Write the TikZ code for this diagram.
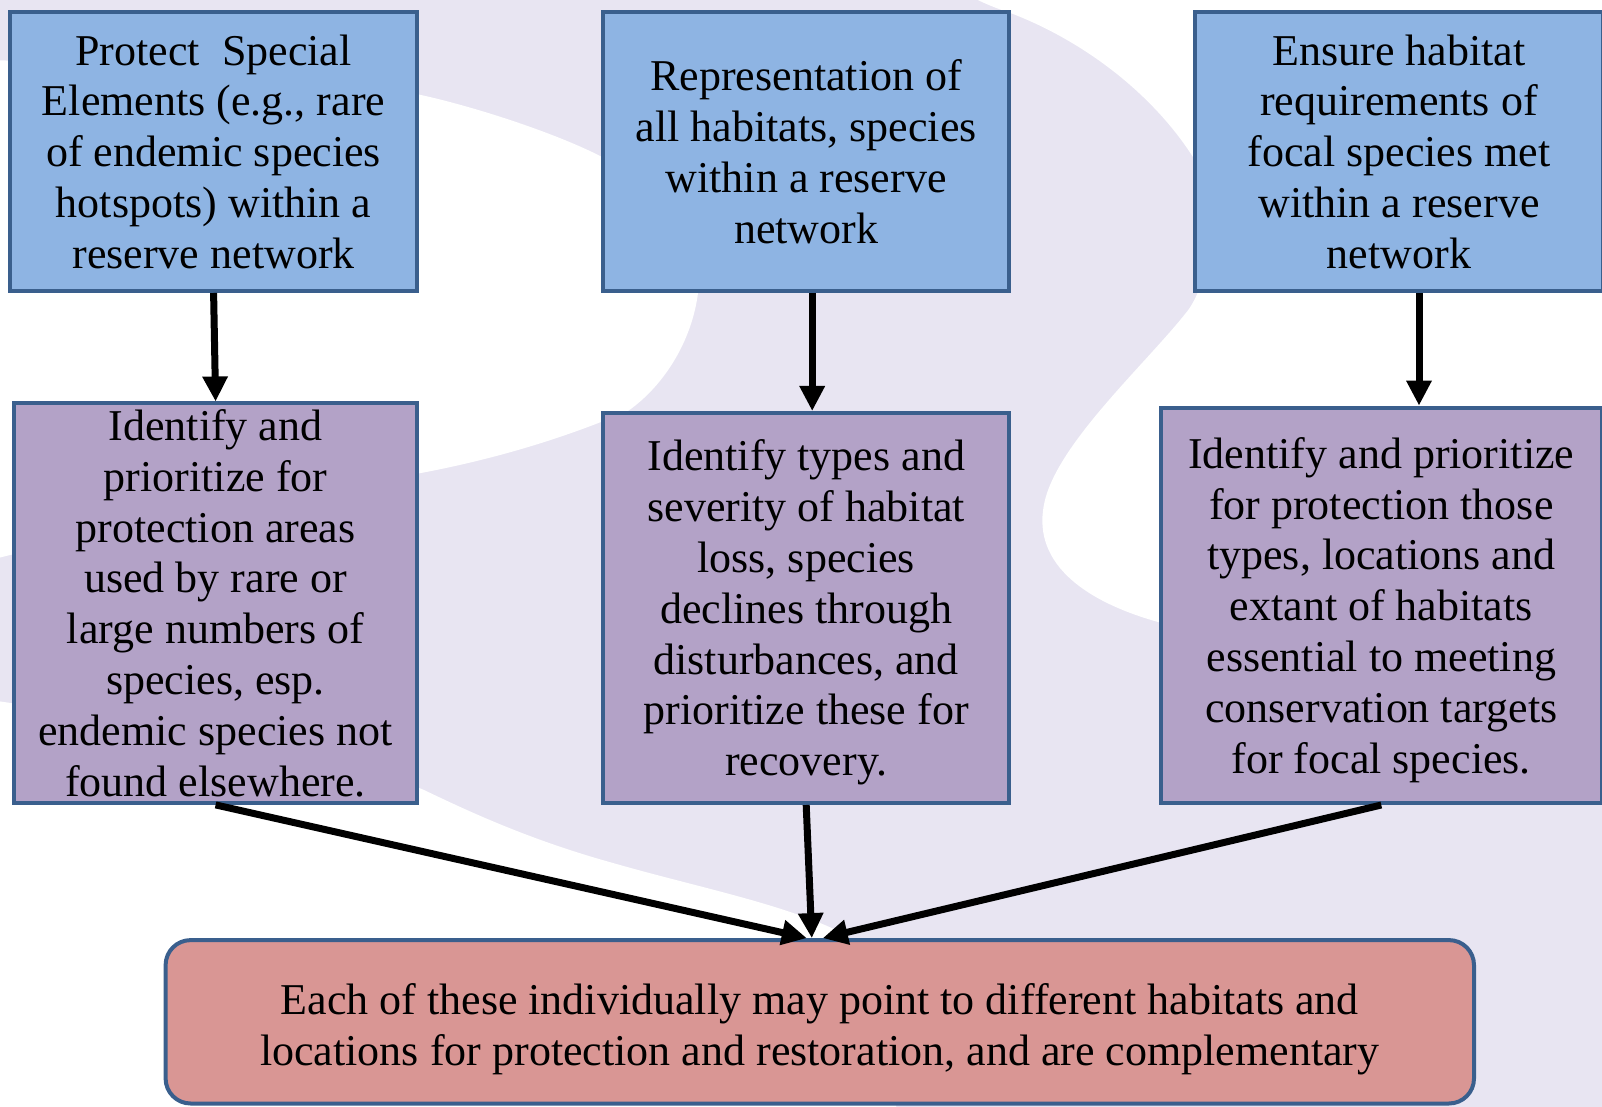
\documentclass[tikz,border=0pt]{standalone}
\usepackage{fontspec}
\setmainfont{Liberation Serif}
\usetikzlibrary{arrows.meta}
\definecolor{lav}{HTML}{E8E5F2}
\definecolor{bluefill}{HTML}{8EB4E3}
\definecolor{purfill}{HTML}{B3A2C7}
\definecolor{pinkfill}{HTML}{D99694}
\definecolor{edgeblue}{HTML}{3A5F8D}
\begin{document}
\begin{tikzpicture}[x=0.5pt,y=-0.5pt,
  box/.style={draw=edgeblue, line width=2pt, align=center, inner sep=0pt,
    font=\fontsize{22pt}{25.4pt}\selectfont},
  topbox/.style={box, fill=bluefill, minimum height=139.4pt},
  midbox/.style={box, fill=purfill},
  conn/.style={line width=3.5pt, -{Triangle[length=12.5pt,width=12pt]}}]
\useasboundingbox (0,0) rectangle (1602,1107);
% background swoosh
\fill[lav] (0,0) rectangle (1602,1107);
\fill[white] (-10,60) .. controls (150,65) and (330,75) .. (421,95)
  .. controls (480,108) and (560,135) .. (602,157)
  .. controls (670,195) and (705,245) .. (698,293)
  .. controls (692,340) and (665,385) .. (628,411)
  .. controls (560,440) and (490,460) .. (421,473)
  .. controls (300,495) and (150,520) .. (-10,560) -- cycle;
\fill[white] (960,-10) .. controls (975,0) and (995,8) .. (1013,14)
  .. controls (1080,40) and (1150,90) .. (1193,157)
  .. controls (1215,200) and (1215,270) .. (1189,309)
  .. controls (1150,360) and (1060,440) .. (1045,500)
  .. controls (1030,560) and (1080,600) .. (1158,622)
  .. controls (1300,660) and (1450,680) .. (1610,690)
  -- (1610,-10) -- cycle;
\fill[white] (-10,700) .. controls (200,730) and (380,770) .. (424,790)
  .. controls (470,812) and (530,840) .. (613,863)
  .. controls (700,888) and (790,905) .. (848,936)
  -- (900,1120) -- (-10,1120) -- cycle;
% boxes
\node[topbox, minimum width=203.4pt] (a1) at (213.6,151.6)
  {Protect\ \ Special\\Elements (e.g., rare\\of endemic species\\hotspots) within a\\reserve network};
\node[topbox, minimum width=203.2pt] (b1) at (806.2,151.6)
  {Representation of\\all habitats, species\\within a reserve\\network};
\node[topbox, minimum width=204pt] (c1) at (1399,151.6)
  {Ensure habitat\\requirements of\\focal species met\\within a reserve\\network};
\node[midbox, minimum width=201.3pt, minimum height=199.7pt] (a2) at (215.6,603.2)
  {Identify and\\prioritize for\\protection areas\\used by rare or\\large numbers of\\species, esp.\\endemic species not\\found elsewhere.};
\node[midbox, minimum width=203.2pt, minimum height=195pt] (b2) at (806.2,608)
  {\rule{0pt}{20pt}Identify types and\\severity of habitat\\loss, species\\declines through\\disturbances, and\\prioritize these for\\recovery.};
\node[midbox, minimum width=220.7pt, minimum height=197.7pt] (c2) at (1381.3,605.3)
  {\rule{0pt}{20pt}Identify and prioritize\\for protection those\\types, locations and\\extant of habitats\\essential to meeting\\conservation targets\\for focal species.};
\node[box, fill=pinkfill, rounded corners=12.5pt, minimum width=654.2pt, minimum height=81.7pt] (bot) at (819.8,1021.8)
  {\rule{0pt}{23.2pt}Each of these individually may point to different habitats and\\locations for protection and restoration, and are complementary};
% connectors
\draw[conn] (a1.south) -- (a2.north);
\draw[conn] ([xshift=3pt]b1.south) -- ([xshift=3pt]b2.north);
\draw[conn] ([xshift=10pt]c1.south) -- ([xshift=18.85pt]c2.north);
\draw[conn] (a2.south) -- ([xshift=-6.5pt]bot.north);
\draw[conn] (b2.south) -- ([xshift=-4pt]bot.north);
\draw[conn] (c2.south) -- ([xshift=1.5pt]bot.north);
\end{tikzpicture}
\end{document}
